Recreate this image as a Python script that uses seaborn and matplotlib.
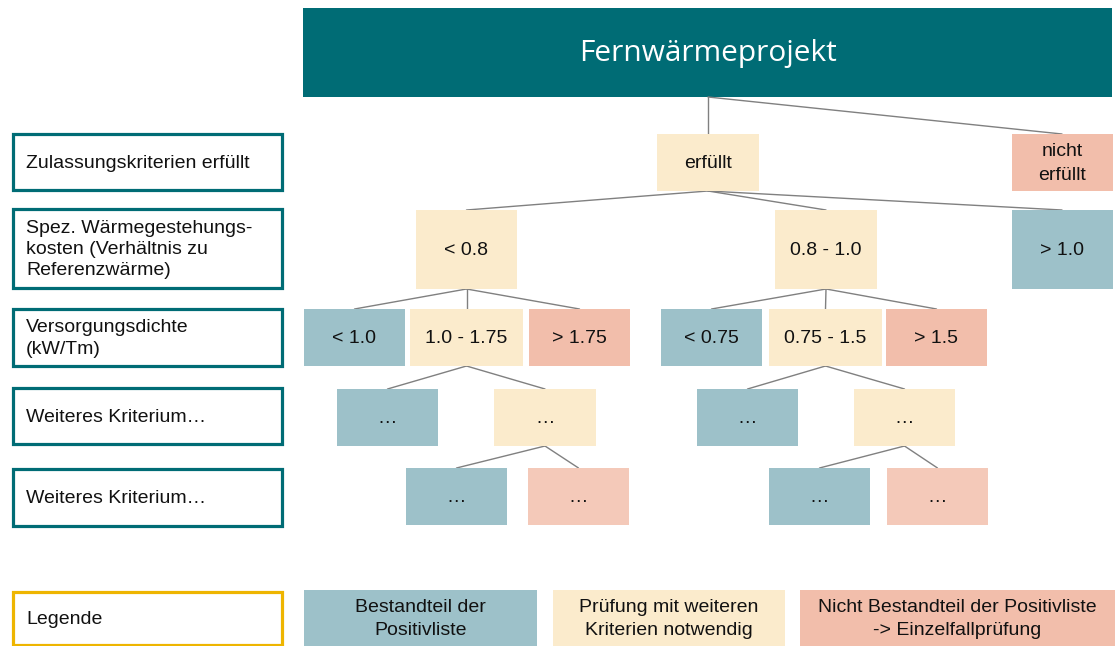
import numpy as np
import seaborn as sns
import matplotlib.pyplot as plt
from matplotlib.patches import Rectangle

# Inhalte des Entscheidungsbaums
titel = "Fernwärmeprojekt"

kriterien = [
    "Zulassungskriterien erfüllt",
    "Spez. Wärmegestehungs-\nkosten (Verhältnis zu\nReferenzwärme)",
    "Versorgungsdichte\n(kW/Tm)",
    "Weiteres Kriterium…",
    "Weiteres Kriterium…",
]

knoten_text = [
    "erfüllt", "nicht\nerfüllt",
    "< 0.8", "0.8 - 1.0", "> 1.0",
    "< 1.0", "1.0 - 1.75", "> 1.75", "< 0.75", "0.75 - 1.5", "> 1.5",
    "…", "…", "…", "…",
    "…", "…", "…", "…",
]
# ja = Bestandteil der Positivliste, pruefen = weitere Kriterien, nein = Einzelfallprüfung
knoten_status = [
    "pruefen", "nein",
    "pruefen", "pruefen", "ja",
    "ja", "pruefen", "nein", "ja", "pruefen", "nein",
    "ja", "pruefen", "ja", "pruefen",
    "ja", "nein", "ja", "nein",
]
knoten_ebene = [1, 1, 2, 2, 2, 3, 3, 3, 3, 3, 3, 4, 4, 4, 4, 5, 5, 5, 5]
# -1 = Kopfzeile "Fernwärmeprojekt"
knoten_eltern = [-1, -1, 0, 0, 0, 2, 2, 2, 3, 3, 3, 6, 6, 9, 9, 12, 12, 14, 14]

legende_titel = "Legende"
legende_text = [
    "Bestandteil der\nPositivliste",
    "Prüfung mit weiteren\nKriterien notwendig",
    "Nicht Bestandteil der Positivliste\n-> Einzelfallprüfung",
]
legende_status = ["ja", "pruefen", "nein"]

# Layout (Pixel)
ebene_oben = {1: 134, 2: 210, 3: 309, 4: 389, 5: 468}
ebene_unten = {1: 191, 2: 289, 3: 366, 4: 446, 5: 525}
knoten_x = [708, 1062, 466.5, 826, 1062, 354.5, 466.5, 579.5, 711.5, 825.5, 936.5,
            387.5, 545, 747.5, 904.5, 456.5, 578.5, 819.5, 937.5]
knoten_b = [102, 101, 101, 102, 101, 101, 113, 101, 101, 113, 101,
            101, 102, 101, 101, 101, 101, 101, 101]
legende_x = [(304, 537), (553, 785), (800, 1115)]

farben = {"ja": "#9DC1C9", "pruefen": "#FBEBCC", "nein": "#F2BEAB"}
farbe_nein_hell = "#F4C9B9"
teal = "#006C75"
gold = "#EEB500"
linie = "#808080"

sns.set_theme(style="white")
plt.rcParams['font.family'] = ['Liberation Sans', 'DejaVu Sans']

fig = plt.figure(figsize=(11.17, 6.46), dpi=100)
ax = fig.add_axes([0, 0, 1, 1])
ax.set_xlim(0, 1117)
ax.set_ylim(646, 0)
ax.axis('off')

# Kopfzeile
kopf = (303, 8, 1112, 97)
ax.add_patch(Rectangle((kopf[0], kopf[1]), kopf[2] - kopf[0], kopf[3] - kopf[1],
                       facecolor=teal, edgecolor='none'))
ax.text(708, 54, titel, color='white', fontsize=21.5, ha='center', va='center',
        family=['Open Sans', 'DejaVu Sans'])

# Kriterien links
kriterien_box = [(134, 190), (209, 288), (309, 366), (388, 444), (469, 526)]
for text, (y0, y1) in zip(kriterien, kriterien_box):
    ax.add_patch(Rectangle((12.5, y0), 269, y1 - y0, facecolor='white',
                           edgecolor=teal, linewidth=2.3))
    ax.text(26, (y0 + y1) / 2 + 1, text, fontsize=14, ha='left', va='center',
            linespacing=1.32, color='#111111')

# Verbindungslinien
for i, p in enumerate(knoten_eltern):
    if p < 0:
        x0, y0 = 708, kopf[3]
    else:
        x0, y0 = knoten_x[p], ebene_unten[knoten_ebene[p]]
    ax.plot([x0, knoten_x[i]], [y0, ebene_oben[knoten_ebene[i]]],
            color=linie, linewidth=1.0, zorder=1)

# Knoten
for i, text in enumerate(knoten_text):
    lvl = knoten_ebene[i]
    y0, y1 = ebene_oben[lvl], ebene_unten[lvl]
    farbe = farben[knoten_status[i]]
    if lvl == 5 and knoten_status[i] == "nein":
        farbe = farbe_nein_hell
    ax.add_patch(Rectangle((knoten_x[i] - knoten_b[i] / 2, y0), knoten_b[i], y1 - y0,
                           facecolor=farbe, edgecolor='none', zorder=2))
    ax.text(knoten_x[i], (y0 + y1) / 2 + 1, text, fontsize=14, ha='center',
            va='center', linespacing=1.5, color='#111111', zorder=3)

# Legende
ax.add_patch(Rectangle((12.5, 591.5), 269, 53, facecolor='white',
                       edgecolor=gold, linewidth=2.3))
ax.text(26, 619, legende_titel, fontsize=14, ha='left', va='center', color='#111111')
for text, status, (x0, x1) in zip(legende_text, legende_status, legende_x):
    ax.add_patch(Rectangle((x0, 590), x1 - x0, 56, facecolor=farben[status],
                           edgecolor='none'))
    ax.text((x0 + x1) / 2, 619, text, fontsize=14, ha='center', va='center',
            linespacing=1.5, color='#111111')

plt.savefig('out.png', dpi=100)
